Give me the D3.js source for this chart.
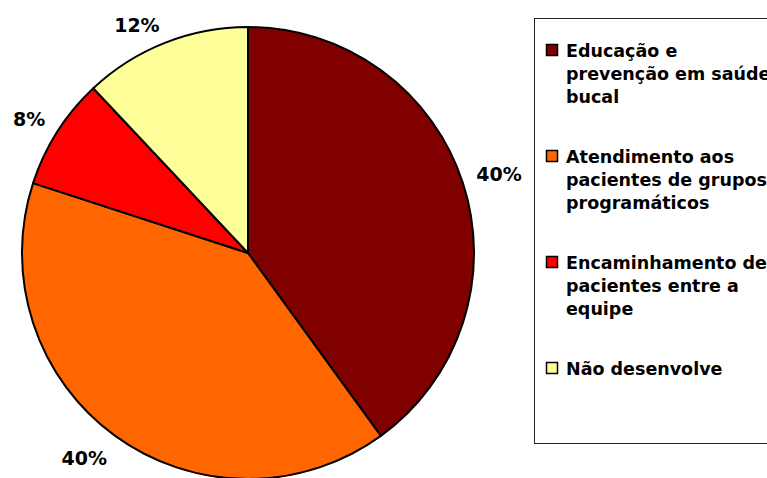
<!DOCTYPE html>
<html>
<head>
<meta charset="utf-8">
<script src="https://cdn.jsdelivr.net/npm/d3@7"></script>
<style>
  html, body { margin: 0; padding: 0; background: #fff; }
  svg { display: block; }
</style>
</head>
<body>
<svg id="chart" width="767" height="478"></svg>
<script>
// Activity categories (legend lines pre-split as displayed)
const categories = [
  ["Educação e", "prevenção em saúde", "bucal"],
  ["Atendimento aos", "pacientes de grupos", "programáticos"],
  ["Encaminhamento de", "pacientes entre a", "equipe"],
  ["Não desenvolve"]
];
const values = [40, 40, 8, 12];
const valueLabels = ["40%", "40%", "8%", "12%"];
const colors = ["#800000", "#FF6600", "#FF0000", "#FFFF99"];

const svg = d3.select("#chart");
const font = "'DejaVu Sans', Verdana, sans-serif";

const cx = 248, cy = 253, radius = 226;

const pie = d3.pie().sort(null).value(d => d);
const arcs = pie(values);
const arcGen = d3.arc().innerRadius(0).outerRadius(radius);

const g = svg.append("g").attr("transform", `translate(${cx},${cy})`);

g.selectAll("path.slice")
  .data(arcs)
  .join("path")
  .attr("class", "slice")
  .attr("d", arcGen)
  .attr("fill", (d, i) => colors[i])
  .attr("stroke", "#000")
  .attr("stroke-width", 2)
  .attr("stroke-linejoin", "round");

// Percentage labels: the label corner nearest the pie sits on a ring just outside it
const labelSize = 19;
const capHeight = labelSize * 0.73;
const labelArc = d3.arc().innerRadius(radius + 14).outerRadius(radius + 14);
g.selectAll("text.pct")
  .data(arcs)
  .join("text")
  .attr("class", "pct")
  .each(function (d, i) {
    const [x, y] = labelArc.centroid(d);
    d3.select(this)
      .attr("x", x)
      .attr("y", y < 0 ? y + 2 : y + capHeight + 4)
      .attr("text-anchor", x < 0 ? "end" : "start");
  })
  .attr("font-family", font)
  .attr("font-weight", "bold")
  .attr("font-size", labelSize)
  .attr("fill", "#000")
  .text((d, i) => valueLabels[i]);

// Legend
const legend = svg.append("g");
legend.append("rect")
  .attr("x", 534.5).attr("y", 18.5)
  .attr("width", 250).attr("height", 425)
  .attr("fill", "#fff")
  .attr("stroke", "#222")
  .attr("stroke-width", 1);

const firstBaseline = 57, itemStep = 106, lineStep = 23;
const items = legend.selectAll("g.item")
  .data(categories)
  .join("g")
  .attr("class", "item")
  .attr("transform", (d, i) => `translate(0,${firstBaseline + i * itemStep})`);

items.append("rect")
  .attr("x", 546.5).attr("y", -12.5)
  .attr("width", 11).attr("height", 11)
  .attr("fill", (d, i) => colors[i])
  .attr("stroke", "#000")
  .attr("stroke-width", 1.5);

items.append("text")
  .attr("x", 566)
  .attr("font-family", font)
  .attr("font-weight", "bold")
  .attr("font-size", 17.5)
  .attr("fill", "#000")
  .selectAll("tspan")
  .data(d => d)
  .join("tspan")
  .attr("x", 566)
  .attr("y", (d, j) => j * lineStep)
  .text(d => d);
</script>
</body>
</html>
